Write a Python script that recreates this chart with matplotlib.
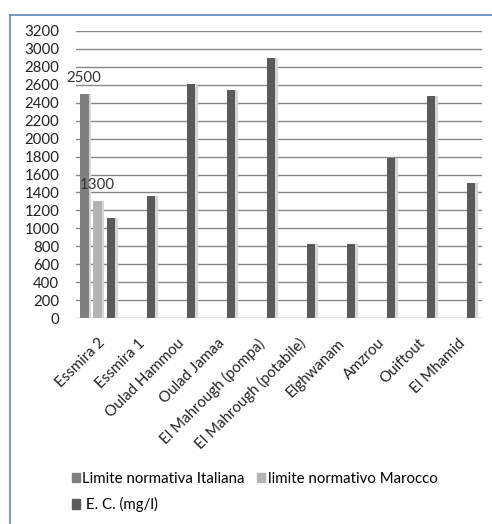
import matplotlib
matplotlib.use("Agg")
import matplotlib.pyplot as plt
from matplotlib.lines import Line2D
from matplotlib.patches import Patch
import numpy as np

plt.rcParams['font.family'] = ['Lato', 'DejaVu Sans']

stations = ["Essmira 2", "Essmira 1", "Oulad Hammou", "Oulad Jamaa",
            "El Mahrough (pompa)", "El Mahrough (potabile)", "Elghwanam",
            "Amzrou", "Ouiftout", "El Mhamid"]
# normative limits only given for the first station
limit_italy = [2500]
limit_morocco = [1300]
ec_values = [1110, 1360, 2610, 2540, 2900, 830, 830, 1780, 2480, 1500]

series_names = ["Limite normativa Italiana", "limite normativo Marocco", " E. C. (mg/l)"]
yticks = list(range(0, 3201, 200))

c_ita = "#7f7f7f"
c_mar = "#b3b3b3"
c_ec = "#5a5a5a"
c_shadow = "#d6d6d6"
fs = 10.8

W, H = 492, 524
fig = plt.figure(figsize=(W / 100, H / 100), dpi=100)
ax = fig.add_axes([76 / W, 1 - 318 / H, (482 - 76) / W, (318 - 31) / H])

x = np.arange(len(stations))
bw = 0.22
off = 0.336
sh = 0.06

def bars(xpos, vals, color):
    ax.bar(np.asarray(xpos) + sh, vals, bw, color=c_shadow, zorder=2, linewidth=0)
    return ax.bar(xpos, vals, bw, color=color, zorder=3, linewidth=0)

b1 = bars(x[:1] - off, limit_italy, c_ita)
b2 = bars(x[:1], limit_morocco, c_mar)
b3 = bars(x + off, ec_values, c_ec)

for bc, vals in ((b1, limit_italy), (b2, limit_morocco)):
    for rect, v in zip(bc, vals):
        ax.annotate(f"{v}", (rect.get_x() + rect.get_width() / 2, v),
                    xytext=(0, 9), textcoords="offset pixels",
                    ha="center", va="bottom", fontsize=fs, color="#333333", zorder=4)

ax.set_ylim(0, 3200)
ax.set_yticks(yticks)
ax.set_yticklabels([str(t) for t in yticks])
ax.set_xlim(-0.54, len(stations) - 0.5 + 0.11)
ax.set_xticks(x)
ax.set_xticklabels(stations, rotation=45, ha="right", rotation_mode="anchor")
ax.tick_params(axis="both", length=0, labelsize=fs, labelcolor="#222222")
ax.tick_params(axis="y", pad=12)
ax.tick_params(axis="x", pad=13)

ax.yaxis.grid(True, color="#868686", linewidth=1)
ax.set_axisbelow(True)
for s in ax.spines.values():
    s.set_visible(False)

handles = [Patch(color=c_ita), Patch(color=c_ec), Patch(color=c_mar)]
labels = [series_names[0], series_names[2], series_names[1]]
fig.legend(handles, labels, ncol=2, loc="upper left",
           bbox_to_anchor=(66 / W, 1 - 466 / H), frameon=False,
           fontsize=fs, handlelength=0.55, handleheight=0.55, handletextpad=0.15,
           columnspacing=0.8, labelspacing=0.75, borderaxespad=0)

# outer chart frame
fig.add_artist(Line2D([10 / W, 1], [1 - 15 / H, 1 - 15 / H], color="#5b86c0", lw=1.2,
                      transform=fig.transFigure))
fig.add_artist(Line2D([10 / W, 10 / W], [0, 1 - 15 / H], color="#5b86c0", lw=1.2,
                      transform=fig.transFigure))

fig.savefig("out.png", dpi=100)
